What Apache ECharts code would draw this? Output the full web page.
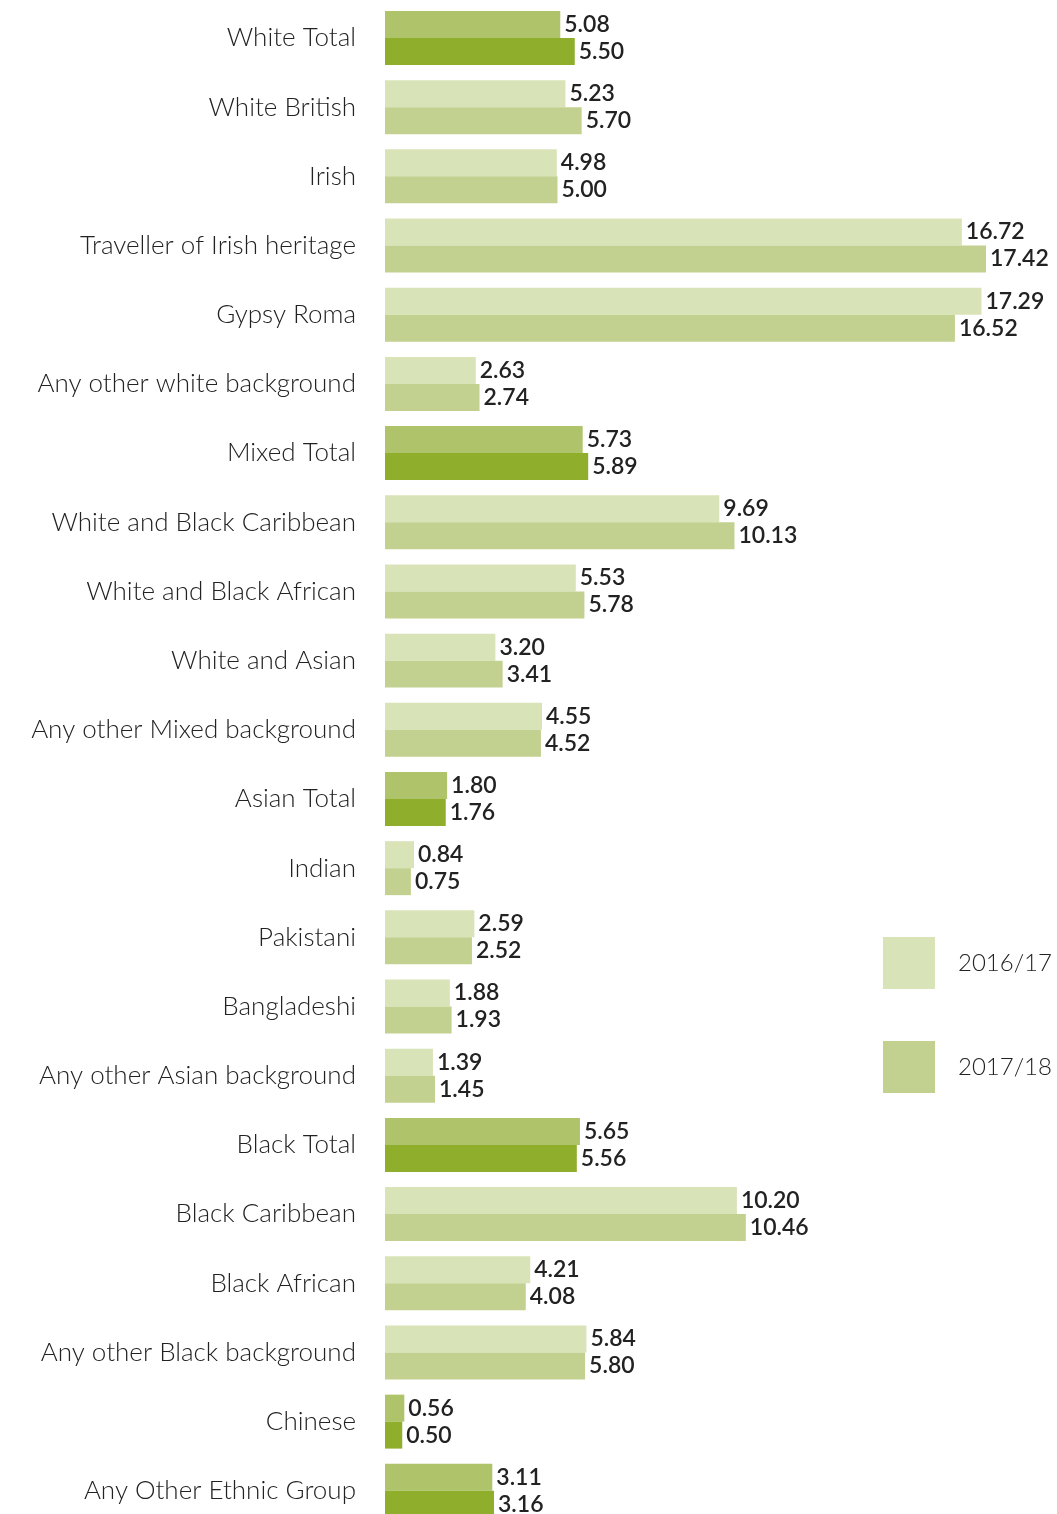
<!DOCTYPE html>
<html>
<head>
<meta charset="utf-8">
<script src="https://cdn.jsdelivr.net/npm/echarts@6/dist/echarts.min.js"></script>
<style>
  html, body { margin: 0; padding: 0; background: #fff; overflow: hidden; }
  /* canvas is a little taller than the page so the last row runs off the bottom edge */
  #chart { width: 1057px; height: 1530px; }
</style>
</head>
<body>
<div id="chart"></div>
<script>
// Ethnic groups, top to bottom
const categories = [
  'White Total', 'White British', 'Irish', 'Traveller of Irish heritage', 'Gypsy Roma',
  'Any other white background', 'Mixed Total', 'White and Black Caribbean',
  'White and Black African', 'White and Asian', 'Any other Mixed background',
  'Asian Total', 'Indian', 'Pakistani', 'Bangladeshi', 'Any other Asian background',
  'Black Total', 'Black Caribbean', 'Black African', 'Any other Black background',
  'Chinese', 'Any Other Ethnic Group'
];
const values1617 = [5.08, 5.23, 4.98, 16.72, 17.29, 2.63, 5.73, 9.69, 5.53, 3.20, 4.55,
  1.80, 0.84, 2.59, 1.88, 1.39, 5.65, 10.20, 4.21, 5.84, 0.56, 3.11];
const values1718 = [5.50, 5.70, 5.00, 17.42, 16.52, 2.74, 5.89, 10.13, 5.78, 3.41, 4.52,
  1.76, 0.75, 2.52, 1.93, 1.45, 5.56, 10.46, 4.08, 5.80, 0.50, 3.16];
// rows drawn in the stronger "total" greens
const highlighted = ['White Total', 'Mixed Total', 'Asian Total', 'Black Total', 'Chinese', 'Any Other Ethnic Group'];

const colors = {
  light1617: '#d8e3b8', light1718: '#c2d18f',
  strong1617: '#aec36a', strong1718: '#8fae2c'
};
const FONT = 'Lato, "Open Sans", sans-serif';

function buildData(vals, normal, strong) {
  return vals.map((v, i) => ({
    value: v,
    itemStyle: { color: highlighted.includes(categories[i]) ? strong : normal }
  }));
}

const labelStyle = {
  show: true,
  position: 'right',
  distance: 4,
  fontFamily: FONT,
  fontSize: 23,
  fontWeight: 600,
  color: '#222',
  formatter: p => p.value.toFixed(2)
};

const chart = echarts.init(document.getElementById('chart'));
chart.setOption({
  animation: false,
  backgroundColor: '#fff',
  grid: { left: 385, top: 3.4, width: 655.5, height: 1522, containLabel: false },
  xAxis: {
    type: 'value', min: 0, max: 19, show: false,
    splitLine: { show: false }
  },
  yAxis: {
    type: 'category', data: categories, inverse: true,
    axisLine: { show: false }, axisTick: { show: false },
    axisLabel: { margin: 29, fontFamily: FONT, fontSize: 26, fontWeight: 300, color: '#222' }
  },
  legend: {
    orient: 'vertical', left: 883, top: 937, padding: 0,
    itemWidth: 52, itemHeight: 52, itemGap: 52, icon: 'rect',
    textStyle: { fontFamily: FONT, fontSize: 24, fontWeight: 300, color: '#222', padding: [0, 0, 0, 18] },
    data: ['2016/17', '2017/18']
  },
  series: [
    {
      name: '2016/17', type: 'bar', color: colors.light1617,
      barCategoryGap: '22%', barGap: '0%',
      data: buildData(values1617, colors.light1617, colors.strong1617),
      label: labelStyle
    },
    {
      name: '2017/18', type: 'bar', color: colors.light1718,
      barCategoryGap: '22%', barGap: '0%',
      data: buildData(values1718, colors.light1718, colors.strong1718),
      label: labelStyle
    }
  ]
});
</script>
</body>
</html>
